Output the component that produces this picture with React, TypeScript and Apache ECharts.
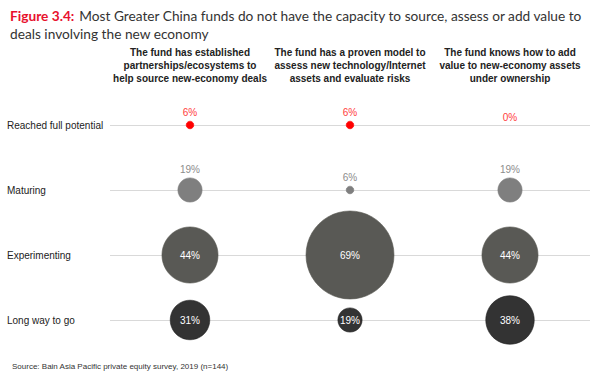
import React, { useEffect, useRef } from "react";
import * as echarts from "echarts";

const columns = [
  "The fund has established\npartnerships/ecosystems to\nhelp source new-economy deals",
  "The fund has a proven model to\nassess new technology/Internet\nassets and evaluate risks",
  "The fund knows how to add\nvalue to new-economy assets\nunder ownership",
];
const rows = ["Reached full potential", "Maturing", "Experimenting", "Long way to go"];
const reached = [6, 6, 0];
const maturing = [19, 6, 19];
const experimenting = [44, 69, 44];
const longWay = [31, 19, 38];

const rowColors = ["#ff0000", "#7f7f7f", "#595955", "#333333"];
const rowBorders = ["#ff0000", "#7a7a7a", "#55554f", "#1f1f1f"];
const labelColors = ["#ff3b3b", "#8c8c8c", "#ffffff", "#ffffff"];
const labelInside = [false, false, true, true];

const PX_PER_PCT = 1.275;

export default function App() {
  const ref = useRef<HTMLDivElement>(null);
  useEffect(() => {
    if (!ref.current) return;
    const chart = echarts.init(ref.current, undefined, { renderer: "svg" });
    const allSeries = [reached, maturing, experimenting, longWay];
    chart.setOption({
      animation: false,
      backgroundColor: "#ffffff",
      title: [
        {
          left: 5,
          top: 1,
          text:
            "{a|Figure 3.4:} {b|Most Greater China funds do not have the capacity to source, assess or add value to}\n{b|deals involving the new economy}",
          textStyle: {
            fontWeight: "normal",
            rich: {
              a: { fontFamily: "Lato", fontSize: 13.7, fontWeight: "bold", color: "#e8112d", lineHeight: 18 },
              b: { fontFamily: "Lato", fontSize: 13.7, fontWeight: "normal", color: "#333333", lineHeight: 18 },
            },
          },
        },
        {
          left: 7,
          bottom: 4,
          text: "Source: Bain Asia Pacific private equity survey, 2019 (n=144)",
          textStyle: { fontFamily: "Liberation Sans", fontSize: 8, fontWeight: "normal", color: "#333333" },
        },
      ],
      grid: { left: 110, right: 10, top: 125, bottom: 59 },
      xAxis: {
        type: "category",
        position: "top",
        data: columns,
        axisLine: { show: false },
        axisTick: { show: false },
        splitLine: { show: false },
        axisLabel: {
          margin: 40,
          interval: 0,
          fontFamily: "Liberation Sans",
          fontSize: 10,
          fontWeight: "bold",
          color: "#222222",
          lineHeight: 13,
        },
      },
      yAxis: {
        type: "category",
        inverse: true,
        boundaryGap: false,
        data: rows,
        axisLine: { show: false },
        axisTick: { show: false },
        splitLine: { show: true, lineStyle: { color: "#d9d9d9", width: 1 } },
        axisLabel: {
          align: "left",
          margin: 103,
          fontFamily: "Liberation Sans",
          fontSize: 10,
          color: "#222222",
        },
      },
      series: allSeries.map((vals, r) => ({
        type: "scatter",
        name: rows[r],
        data: vals.map((v, c) => [c, r, v]),
        symbolSize: (d: number[]) => d[2] * PX_PER_PCT,
        itemStyle: { color: rowColors[r], borderColor: rowBorders[r], borderWidth: 0.6, opacity: 1 },
        label: {
          show: true,
          position: labelInside[r] ? "inside" : "top",
          distance: 3,
          formatter: (p: any) => p.value[2] + "%",
          fontFamily: "Liberation Sans",
          fontSize: 10,
          color: labelColors[r],
        },
        emphasis: { disabled: true },
      })),
    });
    return () => chart.dispose();
  }, []);
  return <div ref={ref} style={{ position: "absolute", left: 0, top: 0, width: 600, height: 379 }} />;
}
